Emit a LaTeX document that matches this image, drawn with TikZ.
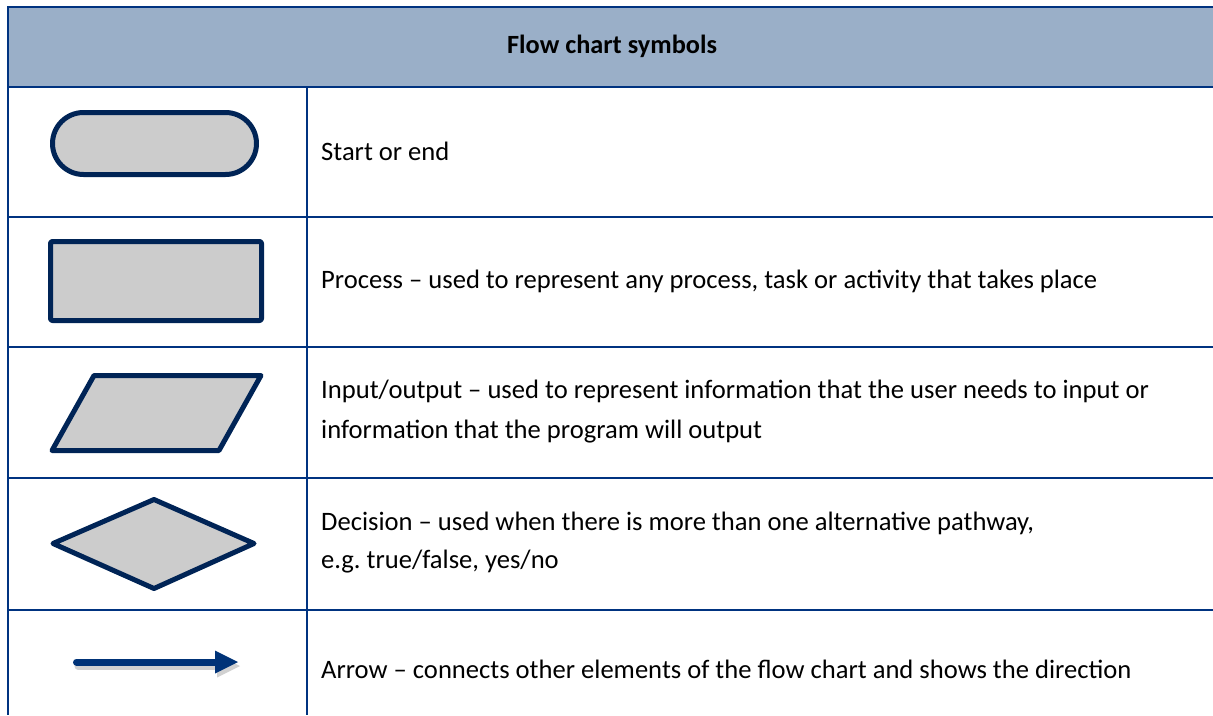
\documentclass[tikz,border=0pt]{standalone}
\usepackage{fontspec}
\setmainfont{Carlito}
\usetikzlibrary{arrows.meta}
\definecolor{tableblue}{RGB}{0,51,128}
\definecolor{headfill}{RGB}{154,175,200}
\definecolor{shapeline}{RGB}{0,36,86}
\definecolor{shapefill}{RGB}{204,204,204}
\definecolor{arrowblue}{RGB}{0,51,120}
\tikzset{
  rule/.style={draw=tableblue, line width=2pt},
  symbol/.style={draw=shapeline, fill=shapefill, line width=5pt, line join=round},
  celltext/.style={anchor=west, align=left, inner sep=0pt,
    font=\fontsize{26.6}{40}\selectfont},
  flowarrow/.style={line width=7pt, line cap=round,
    -{Triangle[length=23pt,width=23pt,line width=0pt]}}
}

\begin{document}
\begin{tikzpicture}[x=1pt,y=-1pt]
    \useasboundingbox (0,0) rectangle (1213,715);
    %% Table
    \fill[headfill] (8,7) rectangle (1213,87);
    \draw[rule]
    (8,7) to (1213,7)
    (8,87) to (1213,87)
    (8,6) to (8,715)
    (307,87) to (307,715)
    ;
    \foreach \y in {217,347,478,610}
    {
    \draw[rule] (8,\y) to (1213,\y);
    }
    \node[font=\bfseries\fontsize{26.3}{30}\selectfont] (title) at (612,46) {Flow chart symbols};

    %% Symbols
    \filldraw[symbol, rounded corners=31pt] (52.5,112.5) rectangle (256.5,174.5);
    \filldraw[symbol, rounded corners=2pt] (50.5,241.5) rectangle (261.5,320.5);
    \filldraw[symbol]
    (94,375.5) -- (261,375.5) -- (219,450.5) -- (52,450.5) -- cycle;
    \filldraw[symbol]
    (53,543.5) -- (154,499.5) -- (254,543.5) -- (154,588.5) -- cycle;
    \draw[flowarrow, black, opacity=0.18] (78,666) to (240,666);
    \draw[flowarrow, arrowblue] (76.5,662) to (238,662);

    %% Descriptions
    \node[celltext] (startend) at (321,151) {Start or end};
    \node[celltext] (process) at (321,281) {Process -- used to represent any process, task or activity that takes place};
    \node[celltext] (inout) at (321,412) {Input/output -- used to represent information that the user needs to input or\\information that the program will output};
    \node[celltext] (decision) at (321,543) {Decision -- used when there is more than one alternative pathway,\\[-2pt]e.g.\ true/false, yes/no};
    \node[celltext] (arrow) at (321,669) {Arrow -- connects other elements of the flow chart and shows the direction};
\end{tikzpicture}
\end{document}
